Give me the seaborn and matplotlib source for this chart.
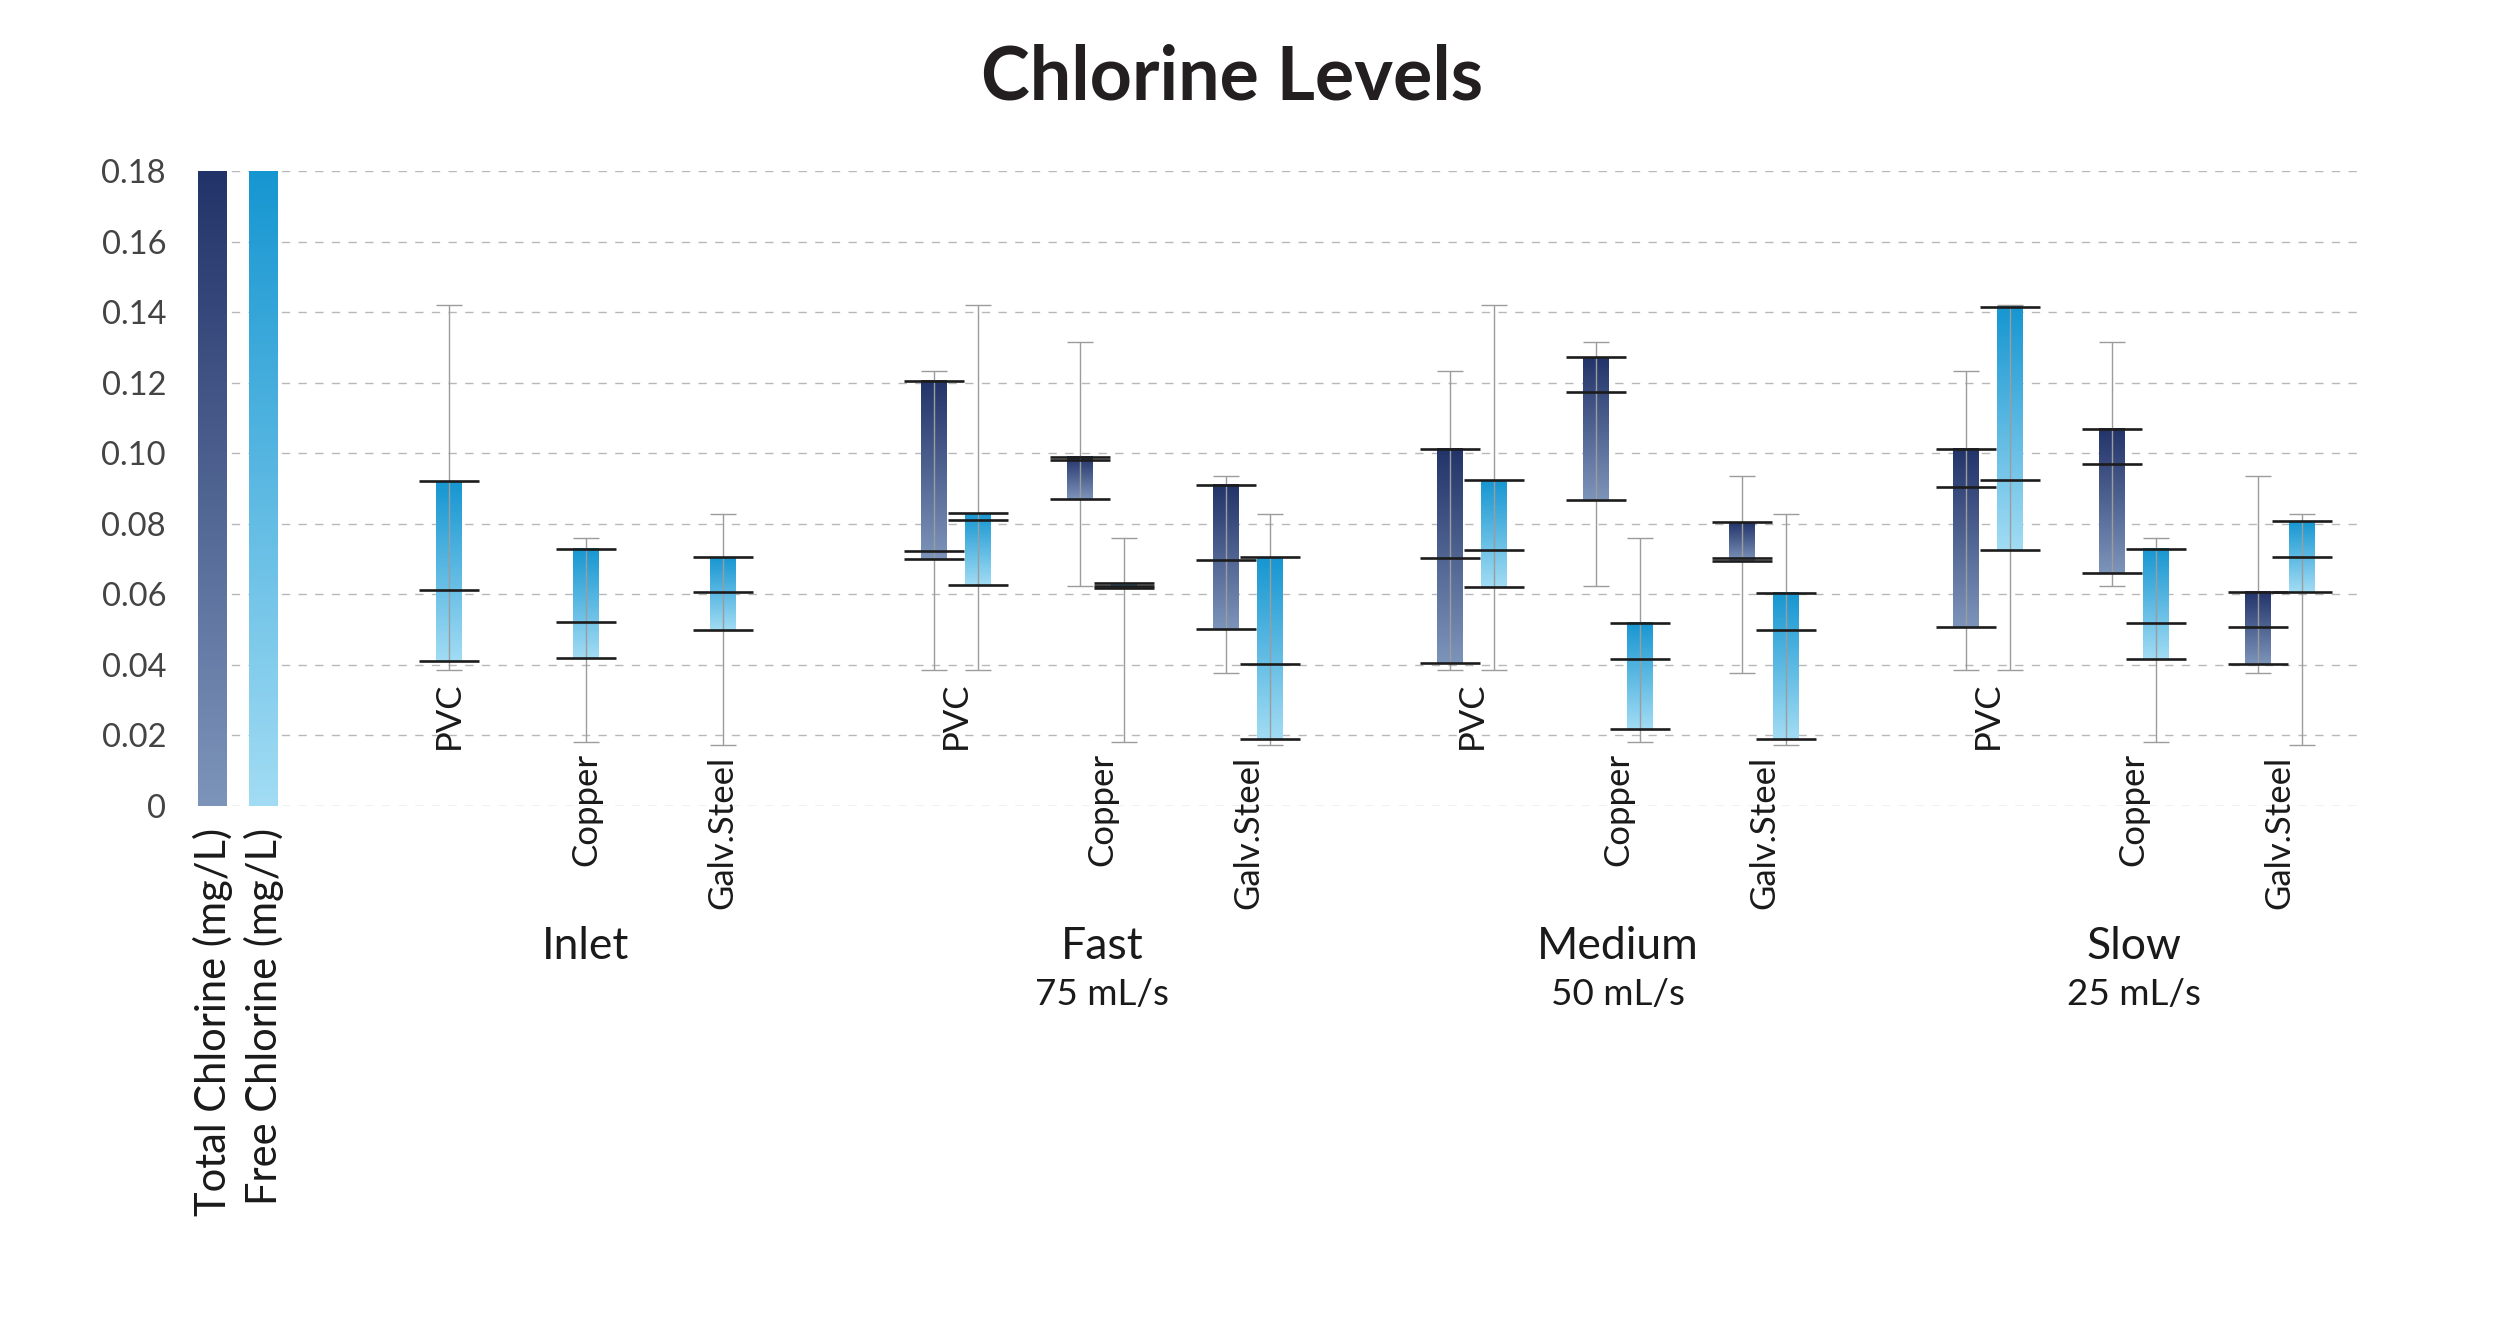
import numpy as np
import pandas as pd
import matplotlib
matplotlib.use("Agg")
import matplotlib.pyplot as plt
import matplotlib.transforms as mtrans
from matplotlib.colors import LinearSegmentedColormap
from matplotlib.ticker import FuncFormatter
import seaborn as sns

groups = ["Inlet", "Fast", "Medium", "Slow"]
rates = ["", "75 mL/s", "50 mL/s", "25 mL/s"]
materials = ["PVC", "Copper", "Galv.Steel"]

# total chlorine boxes (low / middle / high), one row per group, Inlet not measured
total_low = [[np.nan, np.nan, np.nan], [0.0700, 0.0870, 0.0501], [0.0406, 0.0867, 0.0695], [0.0507, 0.0660, 0.0402]]
total_mid = [[np.nan, np.nan, np.nan], [0.0724, 0.0982, 0.0697], [0.0702, 0.1174, 0.0704], [0.0904, 0.0969, 0.0508]]
total_high = [[np.nan, np.nan, np.nan], [0.1206, 0.0990, 0.0911], [0.1013, 0.1272, 0.0805], [0.1013, 0.1069, 0.0607]]
total_wlo = [0.0385, 0.0625, 0.0376]
total_whi = [0.1233, 0.1315, 0.0936]

# free chlorine boxes
free_low = [[0.0411, 0.0419, 0.0500], [0.0626, 0.0618, 0.0190], [0.0622, 0.0217, 0.0190], [0.0725, 0.0418, 0.0607]]
free_mid = [[0.0613, 0.0521, 0.0607], [0.0810, 0.0624, 0.0402], [0.0725, 0.0418, 0.0500], [0.0923, 0.0518, 0.0706]]
free_high = [[0.0921, 0.0730, 0.0706], [0.0830, 0.0632, 0.0706], [0.0923, 0.0518, 0.0605], [0.1415, 0.0730, 0.0807]]
free_wlo = [0.0385, 0.0181, 0.0173]
free_whi = [0.1421, 0.0760, 0.0827]

series = {
    "Total": (total_low, total_mid, total_high, total_wlo, total_whi),
    "Free": (free_low, free_mid, free_high, free_wlo, free_whi),
}

# layout
MAT_STEP = 0.283
INLET_STEP = 0.265
OFF = 0.0426
BAR_W = 0.05
LINE_W = 0.117
CAP_W = 0.05

rows = []
for g in range(len(groups)):
    present = [s for s, v in series.items() if not np.isnan(v[0][g][0])]
    for m in range(len(materials)):
        for s in present:
            lo, mi, hi, wlo, whi = series[s]
            if len(present) == 1:
                pos = g + (m - 1) * INLET_STEP
            else:
                pos = g + (m - 1) * MAT_STEP + (-OFF if s == "Total" else OFF)
            rows.append(dict(series=s, group=g, material=m, pos=pos,
                             low=lo[g][m], mid=mi[g][m], high=hi[g][m],
                             wlo=wlo[m], whi=whi[m]))
df = pd.DataFrame(rows).sort_values("pos").reset_index(drop=True)

cmaps = {
    "Total": LinearSegmentedColormap.from_list("tot", ["#7d94ba", "#223369"]),
    "Free": LinearSegmentedColormap.from_list("free", ["#a2dcf4", "#1696d1"]),
}
grad = np.linspace(0, 1, 256).reshape(-1, 1)

sns.set_theme(style="whitegrid")
plt.rcParams["font.family"] = ["Lato", "DejaVu Sans"]

fig = plt.figure(figsize=(25, 13.35), dpi=100)
ax = fig.add_axes([0.0792, 0.3963, 0.8668, 0.4757])

sns.barplot(data=df, x="pos", y="high", native_scale=True, orient="x",
            errorbar=None, color="white", ax=ax)

for p, r in zip(ax.patches, df.itertuples()):
    p.set_x(r.pos - BAR_W / 2)
    p.set_width(BAR_W)
    p.set_y(r.low)
    p.set_height(r.high - r.low)
    p.set_facecolor("none")
    p.set_edgecolor("none")
    ax.imshow(grad, extent=(r.pos - BAR_W / 2, r.pos + BAR_W / 2, r.low, r.high),
              origin="lower", cmap=cmaps[r.series], aspect="auto", zorder=2)

# whiskers
ax.vlines(df["pos"], df["wlo"], df["whi"], color="#9c9c9c", lw=1.0, zorder=3)
for col in ["wlo", "whi"]:
    ax.hlines(df[col], df["pos"] - CAP_W / 2, df["pos"] + CAP_W / 2,
              color="#9c9c9c", lw=1.0, zorder=3)

# box edges and middle
for col in ["low", "mid", "high"]:
    ax.hlines(df[col], df["pos"] - LINE_W / 2, df["pos"] + LINE_W / 2,
              color="#1c1c1c", lw=1.9, zorder=4)

# material labels under the whiskers
for (g, m), sub in df.groupby(["group", "material"]):
    ax.annotate(materials[m], (sub["pos"].mean(), sub["wlo"].min()),
                xytext=(0, -8), textcoords="offset points", rotation=90,
                ha="center", va="top", fontsize=25, color="#1a1a1a")

# group labels
trans = mtrans.blended_transform_factory(ax.transData, ax.transAxes)
for g, name in enumerate(groups):
    ax.text(g, -0.241, name, transform=trans, ha="center", va="baseline",
            fontsize=32, color="#1a1a1a")
    if rates[g]:
        ax.text(g, -0.3134, rates[g], transform=trans, ha="center",
                va="baseline", fontsize=26.5, color="#1a1a1a")

# colour key bars on the left
ymax = 0.18
for xk, s, label in [(-0.724, "Total", "Total Chlorine (mg/L)"),
                     (-0.625, "Free", "Free Chlorine (mg/L)")]:
    ax.imshow(grad, extent=(xk - 0.028, xk + 0.028, 0, ymax), origin="lower",
              cmap=cmaps[s], aspect="auto", zorder=2)
    ax.text(xk, -0.0346, label, transform=trans, rotation=90, ha="center",
            va="top", fontsize=30, color="#1a1a1a")

ax.set_xlim(-0.752, 3.448)
ax.set_ylim(0, 0.1801)
ax.set_yticks(np.arange(0, 0.181, 0.02))
ax.yaxis.set_major_formatter(FuncFormatter(lambda v, _: "0" if abs(v) < 1e-9 else f"{v:.2f}"))
ax.set_xticks([])
ax.set_xlabel("")
ax.set_ylabel("")
ax.tick_params(axis="y", length=0, pad=23, labelsize=23.5, labelcolor="#444444")
ax.xaxis.grid(False)
ax.yaxis.grid(True, color="#b8b8b8", linestyle=(0, (6, 6)), lw=1.0)
ax.set_axisbelow(True)
for sp in ax.spines.values():
    sp.set_visible(False)
ax.set_facecolor("white")

fig.text(0.4928, 0.9258, "Chlorine Levels", ha="center", va="baseline",
         fontsize=53, fontweight="bold", color="#231f20")

fig.savefig("out.png", dpi=100, facecolor="white")
